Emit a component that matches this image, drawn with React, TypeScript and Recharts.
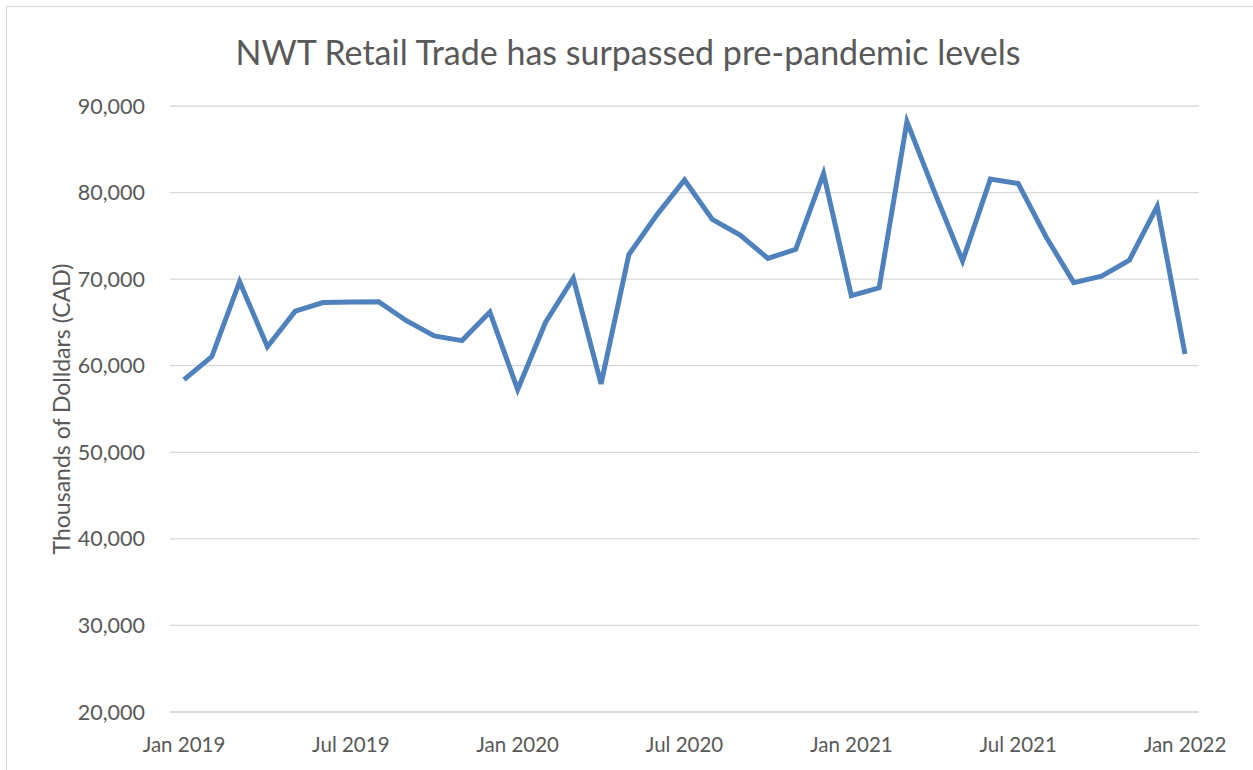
import React from "react";
import { LineChart, Line, XAxis, YAxis, CartesianGrid, Label } from "recharts";

const months = [
  "Jan 2019", "Feb 2019", "Mar 2019", "Apr 2019", "May 2019", "Jun 2019",
  "Jul 2019", "Aug 2019", "Sep 2019", "Oct 2019", "Nov 2019", "Dec 2019",
  "Jan 2020", "Feb 2020", "Mar 2020", "Apr 2020", "May 2020", "Jun 2020",
  "Jul 2020", "Aug 2020", "Sep 2020", "Oct 2020", "Nov 2020", "Dec 2020",
  "Jan 2021", "Feb 2021", "Mar 2021", "Apr 2021", "May 2021", "Jun 2021",
  "Jul 2021", "Aug 2021", "Sep 2021", "Oct 2021", "Nov 2021", "Dec 2021",
  "Jan 2022",
];

const retailTrade = [
  58400, 61050, 69700, 62200, 66300, 67300, 67350, 67400, 65200, 63440, 62900, 66200,
  57250, 65000, 70100, 57900, 72850, 77400, 81450, 76900, 75100, 72400, 73450, 82200,
  68100, 69000, 88200, 80000, 72100, 81550, 81050, 74900, 69600, 70350, 72200, 78400,
  61350,
];

const xTicks = ["Jan 2019", "Jul 2019", "Jan 2020", "Jul 2020", "Jan 2021", "Jul 2021", "Jan 2022"];
const yTicks = [20000, 30000, 40000, 50000, 60000, 70000, 80000, 90000];

const title = "NWT Retail Trade has surpassed pre-pandemic levels";
const yLabel = "Thousands of Dolldars (CAD)";

const data = months.map((m, i) => ({ month: m, value: retailTrade[i] }));

const FONT = "Lato, 'Open Sans', sans-serif";
const TEXT = "#595959";

export default function App() {
  return (
    <div style={{ position: "absolute", left: 0, top: 0, width: 1253, height: 770, overflow: "hidden", background: "#fff" }}>
      <div
        style={{
          position: "absolute",
          left: 6,
          top: 6,
          width: 1300,
          height: 800,
          border: "1px solid #d9d9d9",
        }}
      />
      <div
        style={{
          position: "absolute",
          left: 0,
          width: 1256,
          top: 30,
          textAlign: "center",
          fontFamily: FONT,
          fontSize: 34,
          color: TEXT,
          lineHeight: "44px",
        }}
      >
        {title}
      </div>
      <div style={{ position: "absolute", left: 0, top: 0 }}>
        <LineChart
          width={1253}
          height={770}
          data={data}
          margin={{ top: 106, right: 54, bottom: 18, left: 10 }}
        >
          <CartesianGrid vertical={false} stroke="#d9d9d9" strokeWidth={1.3} />
          <XAxis
            dataKey="month"
            ticks={xTicks}
            interval={0}
            padding={{ left: 14, right: 14 }}
            height={40}
            tickLine={false}
            tickSize={0}
            tickMargin={25}
            axisLine={{ stroke: "#d9d9d9", strokeWidth: 1.3 }}
            tick={{ fill: TEXT, fontSize: 20.5, fontFamily: FONT }}
          />
          <YAxis
            domain={[20000, 90000]}
            ticks={yTicks}
            width={160}
            axisLine={false}
            tickLine={false}
            tickSize={0}
            tickMargin={25}
            tickFormatter={(v: number) => v.toLocaleString("en-US")}
            tick={{ fill: TEXT, fontSize: 21.5, fontFamily: FONT }}
          >
            <Label
              value={yLabel}
              angle={-90}
              position="center"
              dx={-28}
              style={{ fill: TEXT, fontSize: 23, fontFamily: FONT, textAnchor: "middle" }}
            />
          </YAxis>
          <Line
            type="linear"
            dataKey="value"
            stroke="#4f81bd"
            strokeWidth={5}
            dot={false}
            isAnimationActive={false}
          />
        </LineChart>
      </div>
    </div>
  );
}
